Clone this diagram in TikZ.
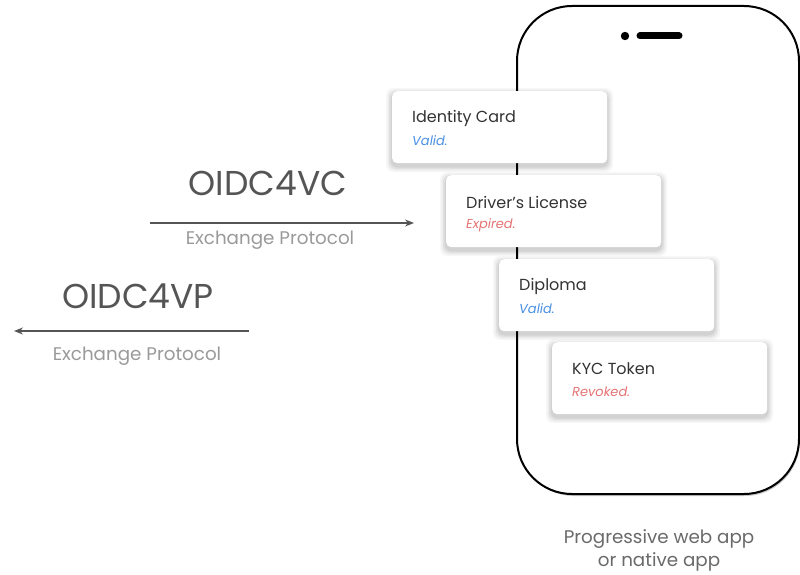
\documentclass[tikz,border=0pt]{standalone}
\usepackage{fontspec}
\setmainfont{Poppins}
\usetikzlibrary{arrows.meta,positioning,calc}
\definecolor{titlegray}{HTML}{333333}
\definecolor{biggray}{HTML}{555555}
\definecolor{subgray}{HTML}{9A9A9A}
\definecolor{footgray}{HTML}{6A6A6A}
\definecolor{validblue}{HTML}{4A90E2}
\definecolor{badred}{HTML}{E57373}
\tikzset{
  cardbox/.style={draw=none, fill=white, rounded corners=5pt, minimum width=215pt, minimum height=72pt, anchor=north west, inner sep=0pt},
  cardtitle/.style={anchor=west, font=\fontsize{16}{19}\selectfont, text=titlegray, inner sep=0pt},
  cardstatus/.style={anchor=west, font=\fontsize{13}{15}\selectfont\itshape, inner sep=0pt},
  protobig/.style={font=\fontsize{34.5}{40}\selectfont, text=biggray, inner sep=0pt},
  protosub/.style={font=\fontsize{18.3}{22}\selectfont, text=subgray, inner sep=0pt},
  footnote/.style={font=\fontsize{18.3}{23}\selectfont, text=footgray, align=center, inner sep=0pt},
  flowarrow/.style={draw=biggray, line width=1.3pt, -{Stealth[length=9pt,width=7pt]}},
}
\newcommand{\mkcard}[6]{%
  % soft shadow
  \foreach \s/\o in {6/0.03,4.5/0.04,3/0.05,1.5/0.06}{
    \fill[black, opacity=\o, rounded corners=7pt] ($(#2,#3)+(-\s,-\s+3)$) rectangle ($(#2,#3)+(215+\s,72+\s+3)$);
  }
  \node[cardbox] (#1) at (#2,#3) {};
  \node[cardtitle] (#1t) at ($(#1.north west)+(20,27)$) {#4};
  \node[cardstatus, text=#6] (#1s) at ($(#1.north west)+(20,50)$) {#5};
}
\begin{document}
\begin{tikzpicture}[x=1pt,y=-1pt]
\useasboundingbox (0,0) rectangle (800,575);
\fill[white] (0,0) rectangle (800,575);
% phone
\fill[black, opacity=0.22, rounded corners=55pt] (519,8) rectangle (800,496);
\node[draw=black, line width=2pt, fill=white, rounded corners=55pt, minimum width=282pt, minimum height=488pt, anchor=north west, inner sep=0pt] (phone) at (516,5) {};
\fill[black] (625,36) circle (4.2pt);
\draw[black, line width=7pt, line cap=round] (640,36) -- (679,36);
% cards
\mkcard{c1}{392}{91}{Identity Card}{Valid.}{validblue}
\mkcard{c2}{446}{175}{Driver’s License}{Expired.}{badred}
\mkcard{c3}{499}{259}{Diploma}{Valid.}{validblue}
\mkcard{c4}{552}{342}{KYC Token}{Revoked.}{badred}
% protocols
\node[protobig] (vc) at (268,183) {OIDC4VC};
\coordinate (vcs) at (150,223);
\coordinate (vce) at (414,223);
\draw[flowarrow] (vcs) -- (vce);
\node[protosub] (vcsub) at (270,240) {Exchange Protocol};
\node[protobig] (vp) at (138,296) {OIDC4VP};
\coordinate (vps) at (249,331);
\coordinate (vpe) at (14,331);
\draw[flowarrow] (vps) -- (vpe);
\node[protosub] (vpsub) at (137,356) {Exchange Protocol};
% footer
\node[footnote] (foot) at (659,550) {Progressive web app\\or native app};
\end{tikzpicture}
\end{document}
